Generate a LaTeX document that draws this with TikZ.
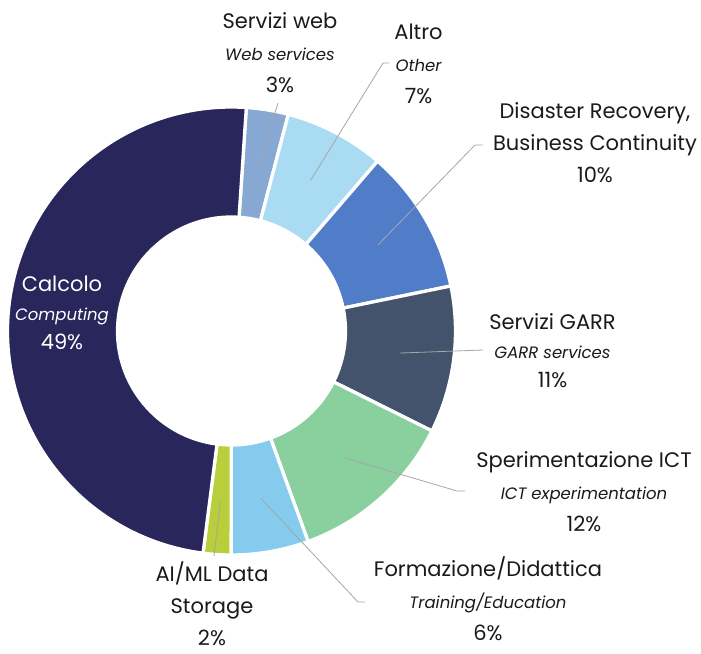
\documentclass[tikz,border=0pt]{standalone}
\usepackage{fontspec}
\setmainfont{Poppins}
\definecolor{calcolo}{HTML}{29265B}
\definecolor{web}{HTML}{87A8D3}
\definecolor{altro}{HTML}{A9DBF3}
\definecolor{disaster}{HTML}{517DC8}
\definecolor{garr}{HTML}{42536B}
\definecolor{ict}{HTML}{8ACF9E}
\definecolor{formazione}{HTML}{84CBEE}
\definecolor{aiml}{HTML}{B8CE3B}
\definecolor{leader}{HTML}{A6A6A6}
\definecolor{ink}{HTML}{1A1A1A}
\newcommand{\enfont}{\fontsize{16.5}{31}\selectfont\itshape}

\begin{document}
\begin{tikzpicture}[x=1pt, y=1pt,
  slice/.style = {draw=white, line width=3.3pt, line join=miter},
  lab/.style = {align=center, anchor=base, text=ink, inner sep=0pt,
    font=\fontsize{21}{32}\selectfont},
  lead/.style = {draw=leader, line width=0.8pt}]
\useasboundingbox (-231.5,-322) rectangle (469.5,331);
% ring
\filldraw[slice, fill=web] (86.2:224) arc[start angle=86.2, end angle=75.3, radius=224] -- (75.3:114) arc[start angle=75.3, end angle=86.2, radius=114] -- cycle;
\filldraw[slice, fill=altro] (75.3:224) arc[start angle=75.3, end angle=49.3, radius=224] -- (49.3:114) arc[start angle=49.3, end angle=75.3, radius=114] -- cycle;
\filldraw[slice, fill=disaster] (49.3:224) arc[start angle=49.3, end angle=11.6, radius=224] -- (11.6:114) arc[start angle=11.6, end angle=49.3, radius=114] -- cycle;
\filldraw[slice, fill=garr] (11.6:224) arc[start angle=11.6, end angle=-26.5, radius=224] -- (-26.5:114) arc[start angle=-26.5, end angle=11.6, radius=114] -- cycle;
\filldraw[slice, fill=ict] (-26.5:224) arc[start angle=-26.5, end angle=-70, radius=224] -- (-70:114) arc[start angle=-70, end angle=-26.5, radius=114] -- cycle;
\filldraw[slice, fill=formazione] (-70:224) arc[start angle=-70, end angle=-90.1, radius=224] -- (-90.1:114) arc[start angle=-90.1, end angle=-70, radius=114] -- cycle;
\filldraw[slice, fill=aiml] (-90.1:224) arc[start angle=-90.1, end angle=-97.3, radius=224] -- (-97.3:114) arc[start angle=-97.3, end angle=-90.1, radius=114] -- cycle;
\filldraw[slice, fill=calcolo] (-97.3:224) arc[start angle=-97.3, end angle=-273.8, radius=224] -- (-273.8:114) arc[start angle=-273.8, end angle=-97.3, radius=114] -- cycle;

% labels (anchored on the last line)
\node[lab] (web) at (48.5,238) {Servizi web\\{\enfont Web services}\\3\%};
\node[lab] (altro) at (187,227) {Altro\\{\enfont Other}\\7\%};
\node[lab] (dr) at (363.5,148) {Disaster Recovery,\\Business Continuity\\10\%};
\node[lab, font=\fontsize{21}{29}\selectfont] (garr) at (321,-56) {Servizi GARR\\{\fontsize{16.5}{29}\selectfont\itshape GARR services}\\11\%};
\node[lab] (ict) at (352.5,-200) {Sperimentazione ICT\\{\enfont ICT experimentation}\\12\%};
\node[lab] (form) at (256.5,-309) {Formazione/Didattica\\{\enfont Training/Education}\\6\%};
\node[lab] (aiml) at (-19.5,-314) {AI/ML Data\\Storage\\2\%};
\node[lab, text=white, font=\fontsize{21}{29}\selectfont] (calc) at (-169.5,-18) {Calcolo\\{\fontsize{16.5}{29}\selectfont\itshape Computing}\\49\%};

% leaders
\coordinate (pweb) at (80.75:170);
\coordinate (paltro) at (62.3:170);
\coordinate (pdr) at (30.45:170);
\coordinate (pgarr) at (-7.45:170);
\coordinate (pict) at (-48.25:170);
\coordinate (pform) at (-80:170);
\coordinate (paiml) at (-93.7:170);
\coordinate (eweb) at (46.5,228);
\coordinate (ealtro) at (151.5,268);
\coordinate (edr) at (243.5,186);
\coordinate (egarr) at (251.5,-19);
\coordinate (eict) at (225.5,-160);
\coordinate (eform) at (126.5,-271);
\coordinate (eaiml) at (-17.5,-225);
\draw[lead] (pweb) -- (eweb);
\draw[lead] (paltro) -- (ealtro) -- ++(6,0);
\draw[lead] (pdr) -- (edr) -- ++(8,0);
\draw[lead] (pgarr) -- (egarr);
\draw[lead] (pict) -- (eict) -- ++(8,0);
\draw[lead] (pform) -- (eform) -- ++(7,0);
\draw[lead] (paiml) -- (eaiml);
\end{tikzpicture}
\end{document}
